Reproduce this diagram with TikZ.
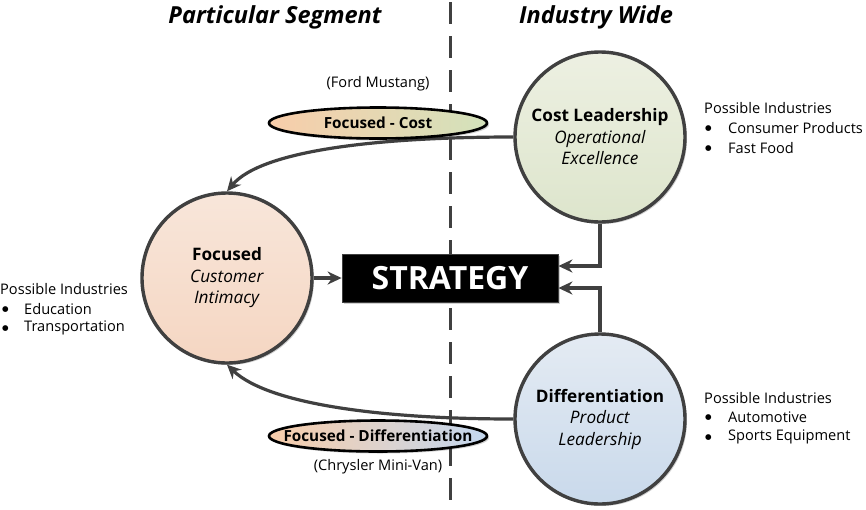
\documentclass[tikz,border=0pt]{standalone}
\usepackage{fontspec}
\setmainfont{Open Sans}
\newfontfamily\dvfont{DejaVu Sans}
\usetikzlibrary{shapes.geometric,arrows.meta,shadows}
\definecolor{edge}{HTML}{404040}
\definecolor{peachT}{HTML}{F8E6DA}
\definecolor{peachB}{HTML}{F5D6C2}
\definecolor{greenT}{HTML}{EDF0E2}
\definecolor{greenB}{HTML}{DDE5CC}
\definecolor{blueT}{HTML}{E4EBF3}
\definecolor{blueB}{HTML}{C9D9EB}
\definecolor{ellPeach}{HTML}{F8CDAA}
\definecolor{ellGreen}{HTML}{D3E2BB}
\definecolor{ellBlue}{HTML}{C3D7EF}
\tikzset{
  bubble/.style={circle, draw=edge, line width=3.4pt, minimum size=170pt, inner sep=0pt,
    align=center, font=\fontsize{17.2}{21.5}\selectfont,
    drop shadow={shadow xshift=2pt, shadow yshift=-2pt, fill=black, opacity=0.18}},
  pill/.style={ellipse, draw=black, line width=2.6pt, minimum width=218pt, minimum height=31pt,
    inner sep=0pt, font=\fontsize{15.3}{18}\selectfont\bfseries,
    drop shadow={shadow xshift=2pt, shadow yshift=-2pt, fill=black, opacity=0.18}},
  conn/.style={draw=edge, line width=3.2pt, -{Stealth[length=14pt,width=13pt]}},
  note/.style={font=\fontsize{14.6}{17}\selectfont, anchor=west, inner sep=0pt},
  bul/.style={font=\dvfont\fontsize{7.5}{8}\selectfont, anchor=west, inner sep=0pt},
  head/.style={font=\fontsize{23.5}{27}\selectfont\bfseries\itshape, inner sep=0pt},
  caption/.style={font=\fontsize{14.6}{17}\selectfont, inner sep=0pt}
}
\begin{document}
\begin{tikzpicture}[x=1pt,y=-1pt]
\useasboundingbox (0,0) rectangle (866,509);
\fill[white] (0,0) rectangle (866,509);
% divider
\coordinate (dtop) at (450,2);
\coordinate (dbot) at (450,509);
\draw[edge, line width=3pt, dash pattern=on 22pt off 12pt] (dtop) -- (dbot);
% headings
\node[head] (hl) at (275,17) {Particular Segment};
\node[head] (hr) at (596,17) {Industry Wide};
% circles
\node[bubble, top color=greenT, bottom color=greenB] (cost) at (600,137)
  {\textbf{Cost Leadership}\\\textit{Operational}\\\textit{Excellence}};
\node[bubble, top color=peachT, bottom color=peachB] (foc) at (227,278)
  {\textbf{Focused}\\\textit{Customer}\\\textit{Intimacy}};
\node[bubble, top color=blueT, bottom color=blueB] (diff) at (600,419)
  {\textbf{Differentiation}\\\textit{Product}\\\textit{Leadership}};
% strategy box
\node[fill=black, draw=edge, line width=0.8pt, minimum width=216pt, minimum height=48pt,
  text=white, font=\fontsize{32}{36}\selectfont\bfseries,
  drop shadow={shadow xshift=2pt, shadow yshift=-2pt, fill=black, opacity=0.18}] (strat) at (450,278) {STRATEGY};
% connectors
\draw[conn] (cost.west) .. controls (380,137) and (262,150) .. (foc.north);
\draw[conn] (diff.west) .. controls (380,419) and (268,404) .. (foc.south);
\draw[conn] (foc.east) -- (strat.west);
\draw[conn] (cost.south) |- ([yshift=12pt]strat.east);
\draw[conn] (diff.north) |- ([yshift=-10pt]strat.east);
% ellipses
\node[pill, left color=ellPeach, right color=ellGreen] (fc) at (378,123) {\makebox[0pt][c]{Focused - Cost}};
\node[pill, left color=ellPeach, right color=ellBlue] (fd) at (378,436) {\makebox[0pt][c]{Focused - Differentiation}};
\node[caption] (ford) at (378,84) {(Ford Mustang)};
\node[caption] (chry) at (378,467) {(Chrysler Mini-Van)};
% notes right top
\node[note] (n1) at (704,108) {Possible Industries};
\node[bul] (n1a) at (705,129) {●};
\node[note] (n1at) at (728,128) {Consumer Products};
\node[bul] (n1b) at (705,149) {●};
\node[note] (n1bt) at (728,148) {Fast Food};
% notes left
\node[note] (n2) at (0,289) {Possible Industries};
\node[bul] (n2a) at (2,310) {●};
\node[note] (n2at) at (24,309) {Education};
\node[bul] (n2b) at (2,329) {●};
\node[note] (n2bt) at (24,328) {Transportation};
% notes right bottom
\node[note] (n3) at (704,398) {Possible Industries};
\node[bul] (n3a) at (705,418) {●};
\node[note] (n3at) at (728,417) {Automotive};
\node[bul] (n3b) at (705,438) {●};
\node[note] (n3bt) at (728,437) {Sports Equipment};
\end{tikzpicture}
\end{document}
